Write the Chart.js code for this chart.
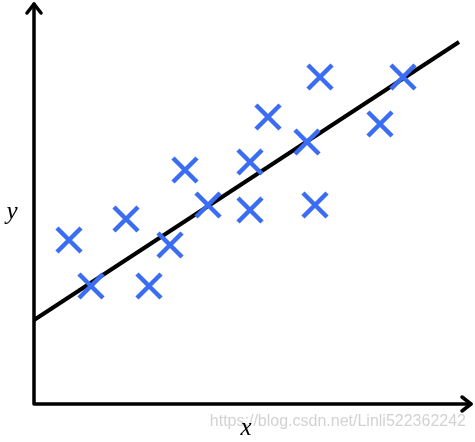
<!DOCTYPE html>
<html>
<head>
<meta charset="utf-8">
<script src="https://cdn.jsdelivr.net/npm/chart.js@4.4.0/dist/chart.umd.min.js"></script>
<style>
html, body { margin: 0; padding: 0; background: #fff; }
#wrap { width: 475px; height: 442px; }
</style>
</head>
<body>
<div id="wrap"><canvas id="chartCanvas" width="475" height="442"></canvas></div>
<script>
// sample points (x, y) measured from the axis origin
var pointX = [35, 57, 92, 115, 136, 151, 174, 216, 216, 234, 273, 281, 286, 346, 369];
var pointY = [164, 118, 185, 118, 159, 234, 199, 242, 194, 287, 262, 199, 327, 280, 327];
// fitted line end points
var lineX = [0, 425];
var lineY = [84, 362];
var axisLabels = ['x', 'y'];
var watermark = 'https://blog.csdn.net/Linli522362242';

var pts = [];
for (var i = 0; i < pointX.length; i++) pts.push({ x: pointX[i], y: pointY[i] });
var linePts = [];
for (var j = 0; j < lineX.length; j++) linePts.push({ x: lineX[j], y: lineY[j] });

var axesPlugin = {
  id: 'axesPlugin',
  beforeDatasetsDraw: function(chart) {
    var c = chart.ctx, a = chart.chartArea;
    c.save();
    c.strokeStyle = '#000';
    c.lineWidth = 3.5;
    c.lineCap = 'round';
    c.lineJoin = 'round';
    c.beginPath();
    c.moveTo(a.left, a.top);
    c.lineTo(a.left, a.bottom);
    c.lineTo(a.right, a.bottom);
    c.stroke();
    // arrow heads
    c.beginPath();
    c.moveTo(a.left - 7, a.top + 9);
    c.lineTo(a.left, a.top);
    c.lineTo(a.left + 7, a.top + 9);
    c.moveTo(a.right - 9, a.bottom - 7);
    c.lineTo(a.right, a.bottom);
    c.lineTo(a.right - 9, a.bottom + 7);
    c.stroke();
    c.restore();
  },
  afterDraw: function(chart) {
    var c = chart.ctx;
    c.save();
    c.fillStyle = '#d2d2d2';
    c.font = '16px "Liberation Sans", Arial, sans-serif';
    c.textBaseline = 'middle';
    c.textAlign = 'right';
    c.fillText(watermark, 466, 422);
    c.fillStyle = '#000';
    c.font = 'italic 25px "Liberation Serif", "Times New Roman", serif';
    c.textAlign = 'center';
    c.fillText(axisLabels[0], 246, 428);
    c.fillText(axisLabels[1], 12, 212);
    c.restore();
  }
};

new Chart(document.getElementById('chartCanvas'), {
  type: 'scatter',
  data: {
    datasets: [{
      type: 'line',
      data: linePts,
      borderColor: '#000',
      borderWidth: 4,
      pointRadius: 0,
      fill: false,
      clip: false,
      order: 2
    }, {
      data: pts,
      pointStyle: 'crossRot',
      pointRadius: 17,
      pointHoverRadius: 17,
      pointBorderWidth: 4.5,
      borderColor: '#3a6cf4',
      backgroundColor: '#3a6cf4',
      clip: false,
      order: 1
    }]
  },
  options: {
    responsive: false,
    animation: false,
    devicePixelRatio: 1,
    layout: { autoPadding: false, padding: { left: 34, top: 4, right: 4, bottom: 38 } },
    plugins: { legend: { display: false }, tooltip: { enabled: false } },
    scales: {
      x: { type: 'linear', display: false, min: 0, max: 437 },
      y: { type: 'linear', display: false, min: 0, max: 400 }
    }
  },
  plugins: [axesPlugin]
});
</script>
</body>
</html>
